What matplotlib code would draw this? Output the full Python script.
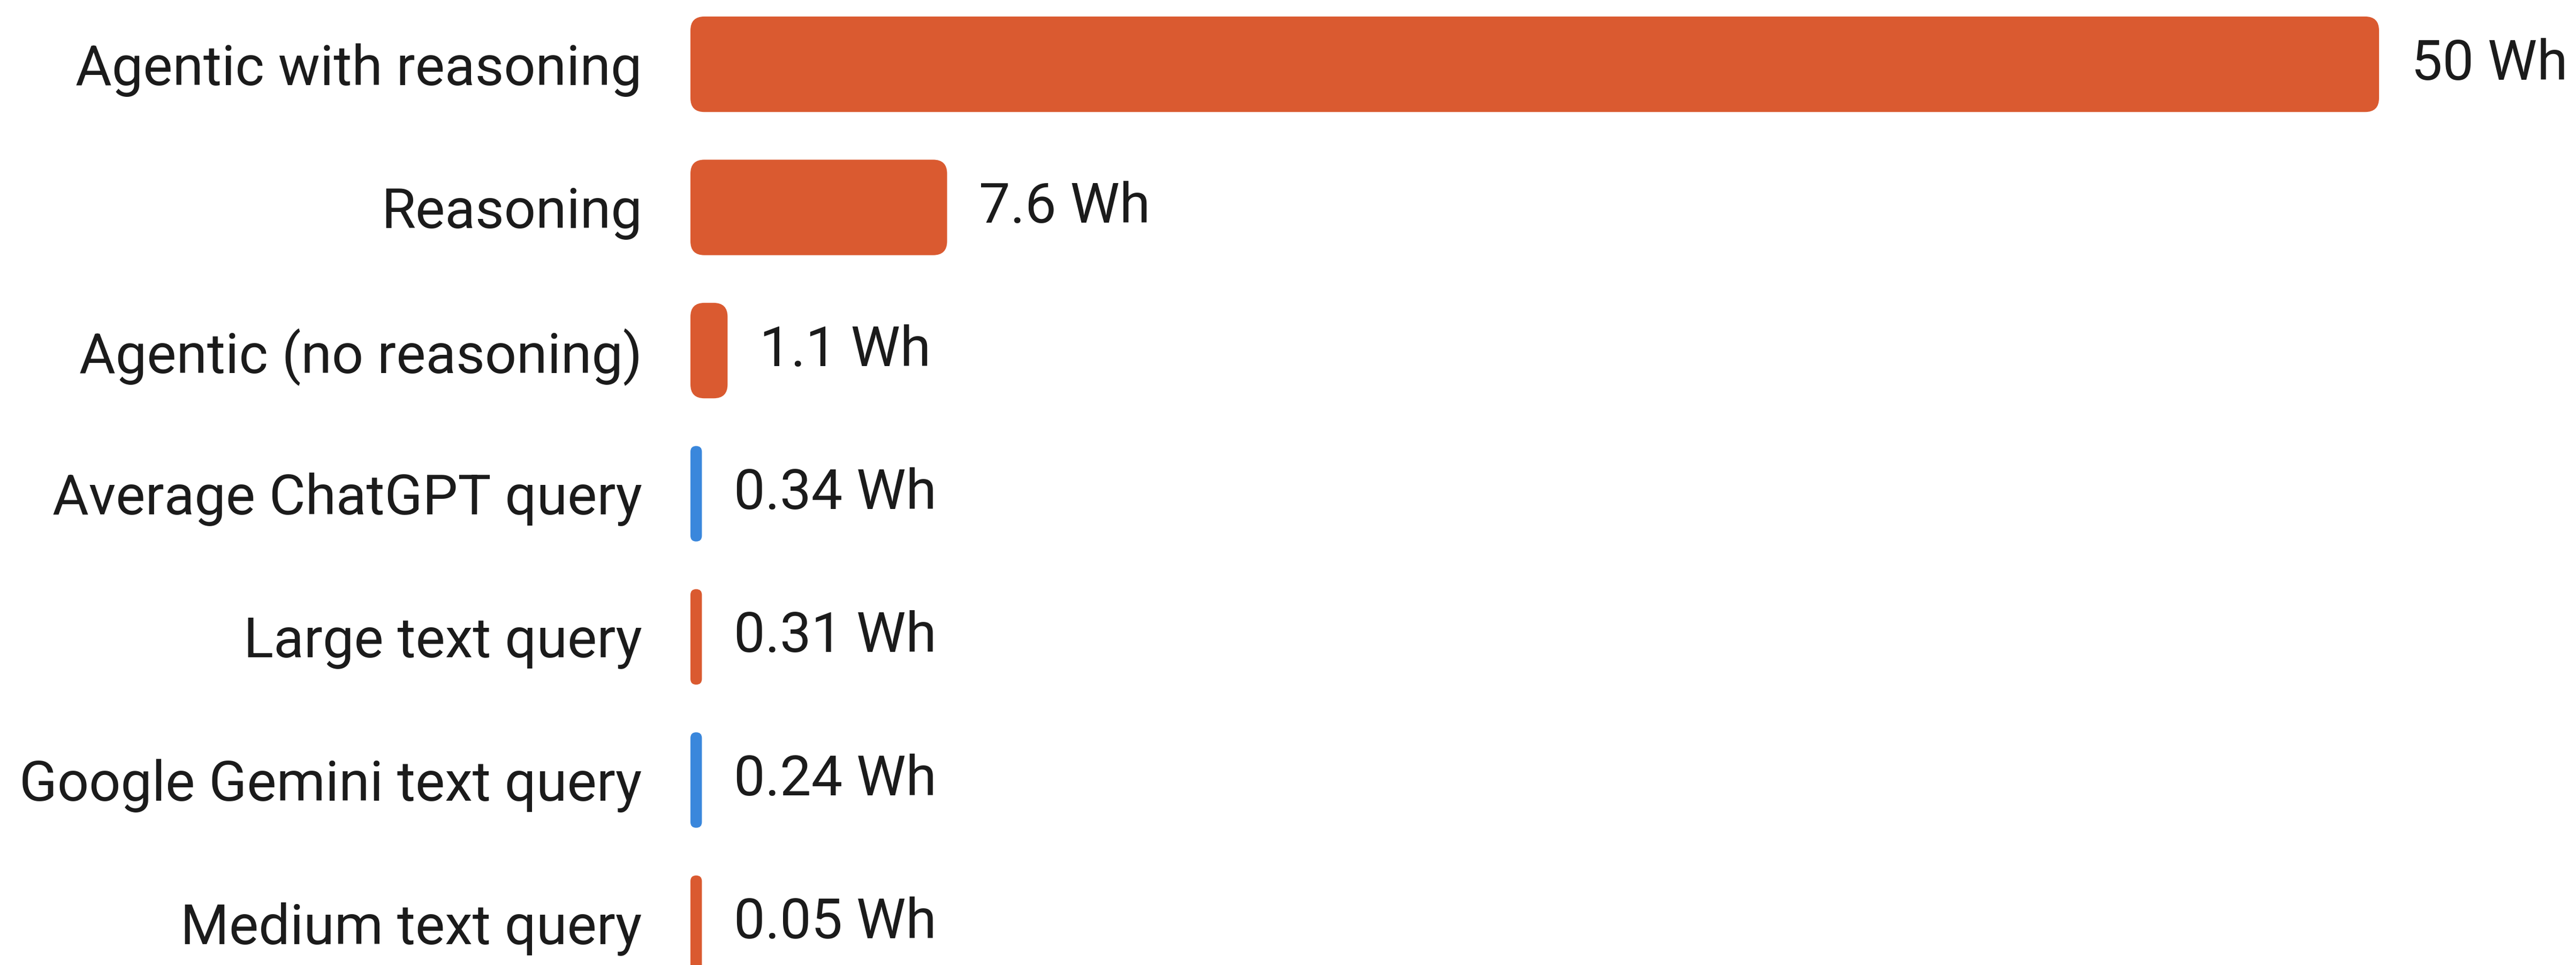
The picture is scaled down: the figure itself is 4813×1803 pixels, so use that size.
import matplotlib.pyplot as plt
from matplotlib.patches import FancyBboxPatch

categories = [
    'Agentic with reasoning',
    'Reasoning',
    'Agentic (no reasoning)',
    'Average ChatGPT query',
    'Large text query',
    'Google Gemini text query',
    'Medium text query',
]
values = [50, 7.6, 1.1, 0.34, 0.31, 0.24, 0.05]
value_labels = ['50 Wh', '7.6 Wh', '1.1 Wh', '0.34 Wh', '0.31 Wh', '0.24 Wh', '0.05 Wh']
is_other = [False, False, False, True, False, True, False]

orange = '#DA5A30'
blue = '#3A87DC'
text_color = '#1b1b1b'

plt.rcParams['font.family'] = ['Roboto', 'DejaVu Sans']

W, H, dpi = 4813, 1803, 100
fig = plt.figure(figsize=(W / dpi, H / dpi), dpi=dpi)
fig.patch.set_facecolor('white')

left_px, right_px = 1290, 4445
ax = fig.add_axes([left_px / W, 0, (right_px - left_px) / W, 1])
ax.set_xlim(0, 50)
ax.set_ylim(6.292, -0.449)

x_unit = (right_px - left_px) / 50   # pixels per Wh
y_unit = 267                          # pixels per row
bar_h = 0.667
min_w = 0.34                          # tiny values still drawn as a visible sliver
radius_px = 26
fs = 75

for i, v in enumerate(values):
    w = max(v, min_w)
    r = min(radius_px / x_unit, w / 2)
    color = blue if is_other[i] else orange
    patch = FancyBboxPatch((0, i - bar_h / 2), w, bar_h,
                           boxstyle=f'round,pad=0,rounding_size={r}',
                           mutation_aspect=x_unit / y_unit,
                           facecolor=color, edgecolor='none', clip_on=False)
    ax.add_patch(patch)
    ax.annotate(value_labels[i], xy=(w, i), xytext=(43, 0), textcoords='offset points',
                ha='left', va='center', fontsize=fs, color=text_color)

ax.set_yticks(range(len(categories)))
ax.set_yticklabels(categories, fontsize=fs, color=text_color)
ax.tick_params(axis='y', length=0, pad=65)
ax.set_xticks([])
for s in ax.spines.values():
    s.set_visible(False)
ax.patch.set_alpha(0)

fig.savefig('out.png', dpi=dpi, facecolor='white')
